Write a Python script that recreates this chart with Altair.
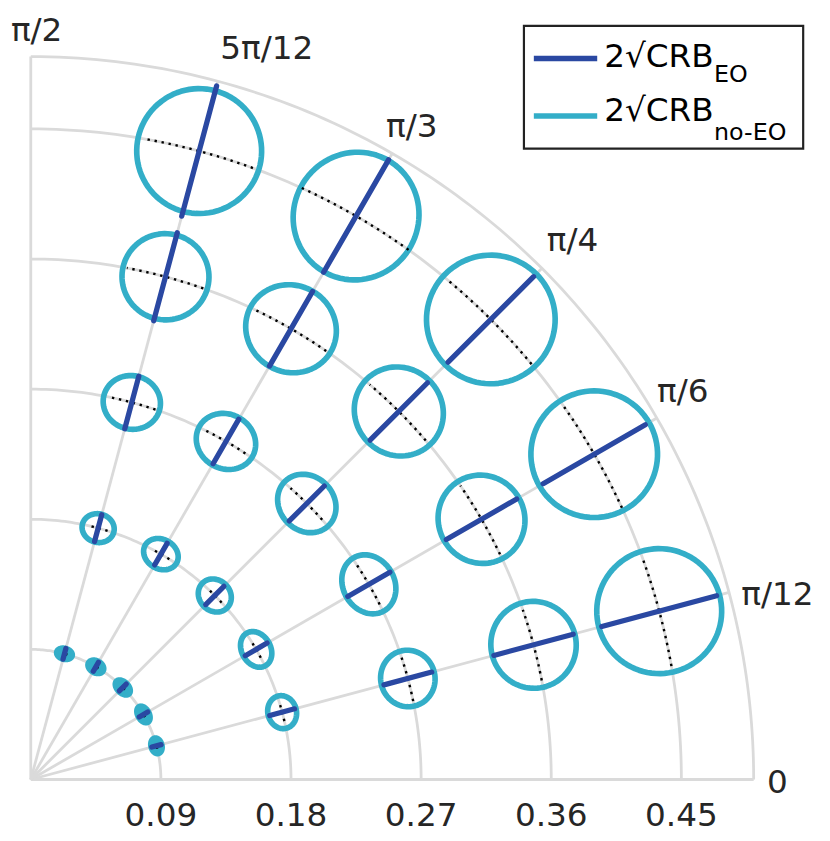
import math
import altair as alt
import numpy as np
import pandas as pd

# ---------------- data ----------------
radii = [0.09, 0.18, 0.27, 0.36, 0.45]
outer_radius = 0.5
spoke_steps = [0, 1, 2, 3, 4, 5, 6]          # multiples of pi/12
ellipse_steps = [1, 2, 3, 4, 5]              # pi/12 ... 5pi/12
theta_labels = ["0", "π/12", "π/6", "π/4", "π/3", "5π/12", "π/2"]
r_tick_labels = ["0.09", "0.18", "0.27", "0.36", "0.45"]

# rows: radius 0.09..0.45 ; cols: angle pi/12..5pi/12
eo_half = [
    [0.0033, 0.0034, 0.0034, 0.0036, 0.0038],
    [0.0089, 0.0087, 0.0089, 0.0086, 0.0096],
    [0.0171, 0.0168, 0.0171, 0.0178, 0.0188],
    [0.0284, 0.0281, 0.0281, 0.0298, 0.0315],
    [0.0411, 0.0408, 0.0418, 0.0449, 0.0466],
]
noeo_radial = [
    [0.0038, 0.0039, 0.0039, 0.0042, 0.0038],
    [0.0099, 0.0100, 0.0107, 0.0102, 0.0099],
    [0.0188, 0.0178, 0.0188, 0.0188, 0.0185],
    [0.0295, 0.0298, 0.0301, 0.0300, 0.0298],
    [0.0432, 0.0438, 0.0445, 0.0445, 0.0432],
]
noeo_tangential = [
    [0.0055, 0.0062, 0.0062, 0.0058, 0.0055],
    [0.0115, 0.0130, 0.0121, 0.0125, 0.0112],
    [0.0196, 0.0212, 0.0215, 0.0211, 0.0199],
    [0.0301, 0.0308, 0.0315, 0.0318, 0.0301],
    [0.0432, 0.0438, 0.0445, 0.0432, 0.0432],
]
dotted_half = [
    [0.0021, 0.0021, 0.0021, 0.0021, 0.0021],
    [0.0064, 0.0066, 0.0068, 0.0068, 0.0068],
    [0.0161, 0.0158, 0.0155, 0.0158, 0.0171],
    [0.0253, 0.0274, 0.0274, 0.0288, 0.0274],
    [0.0390, 0.0418, 0.0418, 0.0432, 0.0390],
]

legend_names = ["2√CRB", "2√CRB"]
legend_subs = ["EO", "no-EO"]

# ---------------- style / layout ----------------
BLUE = "#2a48a2"
CYAN = "#33aec8"
GRID = "#dadada"
TXT = "#262626"
FONT = "DejaVu Sans"
PX = 1460.0            # pixels per data unit
W, H = 822, 833
OX, OY = 23, 775       # origin in view pixels
label_r = [0.5164, 0.5320, 0.5245, 0.5281, 0.5224, 0.5310, 0.5175]
label_deg = [-0.3, 13.9, 30.7, 44.8, 59.7, 72.1, 89.55]

xs = alt.Scale(domain=[-OX / PX, (W - OX) / PX], nice=False, zero=False)
ys = alt.Scale(domain=[-(H - OY) / PX, OY / PX], nice=False, zero=False)

def X(f="x"):
    return alt.X(f"{f}:Q", scale=xs, axis=None)

def Y(f="y"):
    return alt.Y(f"{f}:Q", scale=ys, axis=None)

# grid
grid_rows = []
for r in radii + [outer_radius]:
    for i, t in enumerate(np.linspace(0, math.pi / 2, 121)):
        grid_rows.append(dict(g=f"a{r}", i=i, x=r * math.cos(t), y=r * math.sin(t)))
for k in spoke_steps:
    t = k * math.pi / 12
    grid_rows.append(dict(g=f"s{k}", i=0, x=0.0, y=0.0))
    grid_rows.append(dict(g=f"s{k}", i=1, x=outer_radius * math.cos(t), y=outer_radius * math.sin(t)))
grid_df = pd.DataFrame(grid_rows)

ell_rows, dot_rows, eo_rows = [], [], []
for a, r in enumerate(radii):
    for b, k in enumerate(ellipse_steps):
        th = k * math.pi / 12
        ux, uy = math.cos(th), math.sin(th)
        vx, vy = -uy, ux
        cx, cy = r * ux, r * uy
        ra, rt = noeo_radial[a][b], noeo_tangential[a][b]
        # the smallest ellipses are drawn solid (ring plus inner ring)
        scales = [1.0, 0.45] if a == 0 else [1.0]
        for s in scales:
            gid = f"e{a}_{b}_{s}"
            for i, t in enumerate(np.linspace(0, 2 * math.pi, 91)):
                ell_rows.append(dict(g=gid, i=i,
                                     x=cx + s * ra * math.cos(t) * ux + s * rt * math.sin(t) * vx,
                                     y=cy + s * ra * math.cos(t) * uy + s * rt * math.sin(t) * vy))
        dphi = dotted_half[a][b] / r
        for i, p in enumerate(np.linspace(th - dphi, th + dphi, 25)):
            dot_rows.append(dict(g=f"d{a}_{b}", i=i, x=r * math.cos(p), y=r * math.sin(p)))
        L = eo_half[a][b]
        eo_rows.append(dict(x=cx - L * ux, y=cy - L * uy, x2=cx + L * ux, y2=cy + L * uy))
ell_df = pd.DataFrame(ell_rows)
dot_df = pd.DataFrame(dot_rows)
eo_df = pd.DataFrame(eo_rows)

rtick_df = pd.DataFrame(dict(x=radii, y=[-37 / PX] * len(radii), t=r_tick_labels))
th_df = pd.DataFrame(dict(
    x=[rr * math.cos(math.radians(d)) for rr, d in zip(label_r, label_deg)],
    y=[rr * math.sin(math.radians(d)) for rr, d in zip(label_r, label_deg)],
    t=theta_labels))

grid = alt.Chart(grid_df).mark_line(color=GRID, strokeWidth=2.8).encode(
    x=X(), y=Y(), detail="g:N", order="i:Q")
ell = alt.Chart(ell_df).mark_line(color=CYAN, strokeWidth=5.7, strokeJoin="round").encode(
    x=X(), y=Y(), detail="g:N", order="i:Q")
dots = alt.Chart(dot_df).mark_line(color="black", strokeWidth=2.4, strokeDash=[2.4, 4.8]).encode(
    x=X(), y=Y(), detail="g:N", order="i:Q")
eo = alt.Chart(eo_df).mark_rule(color=BLUE, strokeWidth=5.3, strokeCap="round").encode(
    x=X(), y=Y(), x2="x2:Q", y2="y2:Q")
rticks = alt.Chart(rtick_df).mark_text(font=FONT, fontSize=33, color=TXT, baseline="middle").encode(
    x=X(), y=Y(), text="t:N")
thticks = alt.Chart(th_df).mark_text(font=FONT, fontSize=33, color=TXT, baseline="middle").encode(
    x=X(), y=Y(), text="t:N")

one = pd.DataFrame(dict(d=[0]))
legend_layers = [
    alt.Chart(one).mark_rect(fill="white", stroke="#222222", strokeWidth=2.2).encode(
        x=alt.value(521), x2=alt.value(803), y=alt.value(14), y2=alt.value(138))
]
leg_line_y = [47, 105]
leg_text_y = [55, 110]
leg_sub_y = [71, 129]
for name, sub, col, ly, ty, sy in zip(legend_names, legend_subs, [BLUE, CYAN], leg_line_y, leg_text_y, leg_sub_y):
    legend_layers.append(alt.Chart(one).mark_rule(color=col, strokeWidth=5.5).encode(
        x=alt.value(531), x2=alt.value(595), y=alt.value(ly)))
    legend_layers.append(alt.Chart(pd.DataFrame(dict(t=[name]))).mark_text(
        font=FONT, fontSize=33, color="black", align="left", baseline="alphabetic").encode(
        x=alt.value(602), y=alt.value(ty), text="t:N"))
    legend_layers.append(alt.Chart(pd.DataFrame(dict(t=[sub]))).mark_text(
        font=FONT, fontSize=24, color="black", align="left", baseline="alphabetic").encode(
        x=alt.value(713), y=alt.value(sy), text="t:N"))

chart = alt.layer(grid, ell, dots, eo, rticks, thticks, *legend_layers).properties(
    width=W, height=H, padding=0,
    autosize=alt.AutoSizeParams(type="none"),
).configure_view(stroke=None)

chart.save("out.html", embed_options={"renderer": "svg", "actions": False})
